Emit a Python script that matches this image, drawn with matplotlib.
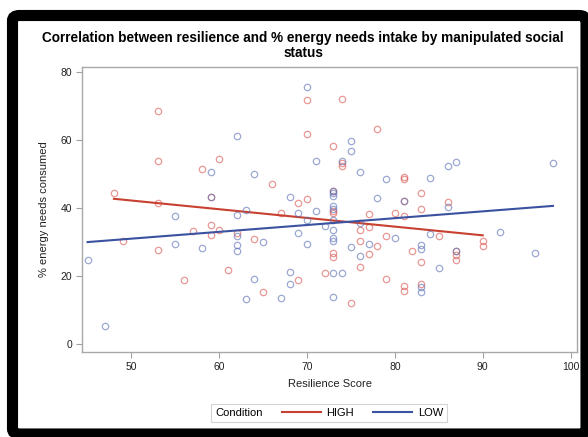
import numpy as np
import matplotlib
matplotlib.use("Agg")
from matplotlib import pyplot as plt
from matplotlib.patches import FancyBboxPatch

plt.rcParams['font.family'] = ['Liberation Sans', 'DejaVu Sans']

# HIGH condition (resilience score, % energy needs consumed)
high_x = [48, 49, 53, 53, 53, 53, 56, 57, 58, 59, 59, 59, 60, 60, 61, 62, 64, 65, 66, 67,
          69, 69, 70, 70, 70, 72, 73, 73, 73, 73, 73, 73, 74, 74, 74, 75, 76, 76, 76,
          77, 77, 77, 78, 78, 79, 79, 80, 81, 81, 81, 81, 81, 81, 82, 83, 83, 83, 83,
          85, 86, 87, 87, 87, 90, 90]
high_y = [44.5, 30.4, 68.6, 53.9, 41.6, 27.8, 18.9, 33.4, 51.6, 43.3, 35.2, 32.2, 54.4, 33.7,
          21.7, 32.7, 30.9, 15.4, 47.2, 38.6, 41.6, 18.9, 71.9, 61.9, 42.8, 21.1,
          58.3, 45.2, 39.1, 38.6, 26.8, 25.7, 72.1, 53.3, 52.4, 12.1, 33.7, 30.3, 22.8,
          38.4, 34.4, 26.5, 63.4, 28.8, 31.9, 19.3, 38.6, 49.3, 48.5, 42.1, 37.8, 17.2,
          15.8, 27.3, 44.6, 39.9, 24.2, 17.7, 31.9, 41.8, 27.5, 26.4, 24.9, 30.3, 28.9]

# LOW condition
low_x = [45, 47, 55, 55, 58, 59, 59, 62, 62, 62, 62, 62, 63, 63, 64, 64, 65, 67, 68, 68, 68,
         69, 69, 70, 70, 70, 71, 71, 72, 73, 73, 73, 73, 73, 73, 73, 73, 73, 73, 73,
         74, 74, 75, 75, 75, 76, 76, 76, 77, 78, 79, 80, 81, 83, 83, 83, 83, 84, 84,
         85, 86, 86, 87, 87, 92, 96, 98]
low_y = [24.7, 5.4, 37.6, 29.5, 28.3, 50.6, 43.3, 61.4, 38.1, 31.9, 29.3, 27.3, 39.4, 13.2,
         50.0, 19.1, 30.2, 13.6, 43.3, 21.3, 17.7, 38.6, 32.8, 75.7, 36.5, 29.6, 53.8, 39.3,
         34.9, 45.2, 44.6, 43.5, 40.6, 39.9, 36.7, 33.5, 31.3, 30.3, 21.1, 14.0,
         53.9, 21.1, 59.8, 56.8, 28.5, 50.8, 35.7, 25.9, 29.5, 42.9, 48.5, 31.3, 42.1,
         29.3, 28.0, 16.8, 15.3, 48.9, 32.5, 22.5, 52.4, 40.4, 53.6, 27.5, 33.1, 26.8, 53.2]

conditions = ["HIGH", "LOW"]
marker_colors = {"HIGH": "#d9534f", "LOW": "#5b6fb5"}
line_colors = {"HIGH": "#c8402f", "LOW": "#3b52a0"}

fig = plt.figure(figsize=(5.88, 4.37), dpi=100)

# black frame around the whole graph
frame = FancyBboxPatch((12.5 / 588, 3 / 437), (586 - 12.5) / 588, (434 - 15.5) / 437,
                       boxstyle="round,pad=0,rounding_size=0.012",
                       transform=fig.transFigure, facecolor="white",
                       edgecolor="black", linewidth=8, zorder=-10)
fig.patches.append(frame)

ax = fig.add_axes([82.3 / 588, 1 - 351.7 / 437, (576.7 - 82.3) / 588, (351.7 - 67.3) / 437])

data = {"HIGH": (np.array(high_x), np.array(high_y)),
        "LOW": (np.array(low_x), np.array(low_y))}

handles = []
for c in conditions:
    x, y = data[c]
    ax.plot(x, y, "o", markersize=4.6, markerfacecolor="none",
            markeredgecolor=marker_colors[c], markeredgewidth=0.9, alpha=0.6)
    slope, inter = np.polyfit(x, y, 1)
    xs = np.array([x.min(), x.max()])
    ln, = ax.plot(xs, inter + slope * xs, color=line_colors[c], linewidth=1.5)
    handles.append(ln)

ax.set_xlim(44.4, 100.7)
ax.set_ylim(-2.2, 81.5)
ax.set_xticks([50, 60, 70, 80, 90, 100])
ax.set_yticks([0, 20, 40, 60, 80])
for s in ax.spines.values():
    s.set_color("#a8a8a8")
    s.set_linewidth(1.0)
ax.tick_params(colors="#a0a0a0", labelcolor="#222222", labelsize=7.5, length=4, width=0.8)

ax.set_xlabel("Resilience Score", fontsize=8, color="#222222", labelpad=5)
ax.set_ylabel("% energy needs consumed", fontsize=8, color="#222222", labelpad=8)

fig.text(303 / 588, 1 - 45.5 / 437,
         "Correlation between resilience and % energy needs intake by manipulated social\nstatus",
         ha="center", va="center", fontsize=9.8, fontweight="bold", linespacing=1.1)

leg = fig.legend(handles, conditions, title="Condition", loc="center",
                 bbox_to_anchor=(329 / 588, 1 - 413 / 437), ncol=2, fontsize=8,
                 title_fontsize=8, frameon=True, fancybox=False, handlelength=3.5,
                 handletextpad=0.5, columnspacing=0.8, borderpad=0.35)
leg.get_frame().set_edgecolor("#c8c8c8")
leg.get_frame().set_linewidth(0.8)
# put the legend title in line with the entries
box = leg.get_children()[0]
title_box = box.get_children()[0]
hpack = box.get_children()[1]
box._children = [hpack]
hpack._children = [title_box] + hpack.get_children()
hpack.sep = 14

fig.savefig("out.png", dpi=100)
